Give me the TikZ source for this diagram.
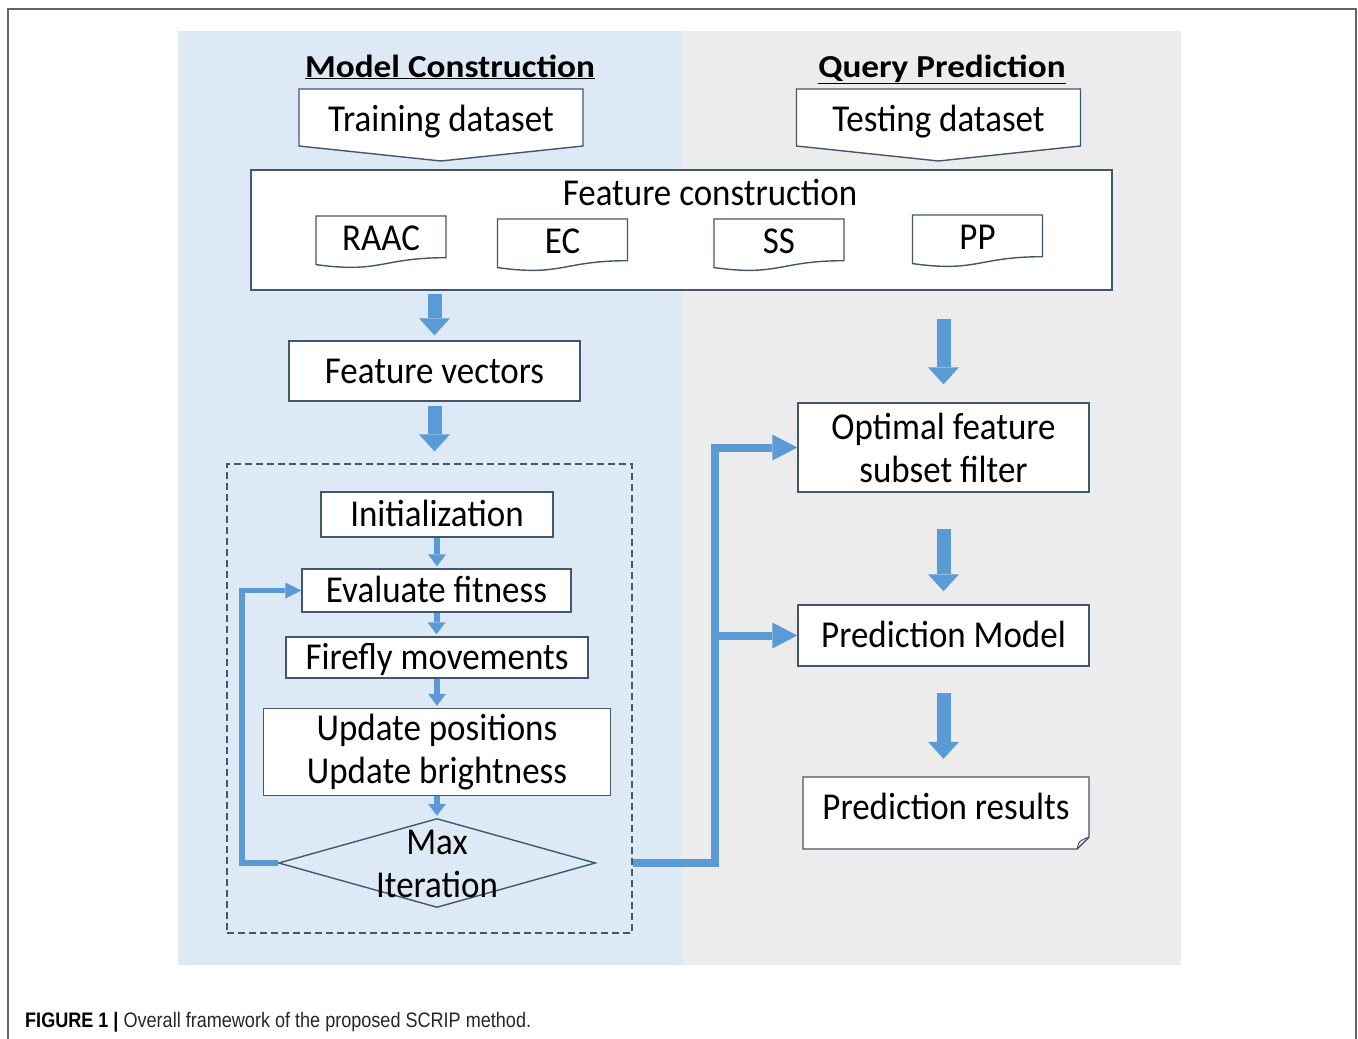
\documentclass[tikz,border=0pt]{standalone}
\usepackage{fontspec}
\setmainfont{Carlito}
\newfontfamily\boxfont{Carlito}[FakeStretch=0.92]
\newfontfamily\headfont{Carlito}[FakeStretch=1.1]
\newfontfamily\capfont{Liberation Sans}[FakeStretch=0.86]
\usetikzlibrary{arrows.meta,calc,shapes.geometric}

\definecolor{panelblue}{RGB}{222,233,246}
\definecolor{panelgray}{RGB}{236,236,236}
\definecolor{arrowblue}{RGB}{91,155,213}
\definecolor{edgeblue}{RGB}{66,86,108}
\definecolor{framegray}{RGB}{100,100,100}

\tikzset{
  txt/.style={font=\boxfont\fontsize{38}{43}\selectfont, inner sep=0pt},
  onel/.style={txt, text height=28pt, text depth=3.5pt},
  box/.style={draw=edgeblue, line width=1.4pt, fill=white},
  outline/.style={draw=edgeblue, line width=1.4pt, fill=white},
  head/.style={font=\headfont\bfseries\fontsize{32}{36}\selectfont, inner sep=0pt},
  bigarrow/.style={draw=arrowblue, line width=14pt, -{Triangle[width=31pt,length=17pt,line width=0pt]}},
  smallarrow/.style={draw=arrowblue, line width=6pt, -{Triangle[width=18pt,length=12pt,line width=0pt]}},
  looparrow/.style={draw=arrowblue, line width=5.5pt, -{Triangle[width=16pt,length=16pt,line width=0pt]}},
  linkarrow/.style={draw=arrowblue, line width=8pt, -{Triangle[width=26pt,length=25pt,line width=0pt]}},
}

\begin{document}
\begin{tikzpicture}[x=1pt,y=-1pt]
  \useasboundingbox (0,0) rectangle (1358,1039);

  % panels and frame
  \fill[panelblue] (178,31) rectangle (682,965);
  \fill[panelgray] (682,31) rectangle (1181,965);
  \draw[framegray, line width=2pt] (8,1039) -- (8,9) -- (1356,9) -- (1356,1039);

  % titles
  \node[head, anchor=base] (mc) at (450,77) {\underline{Model Construction}};
  \node[head, anchor=base] (qp) at (942,77) {\underline{Query Prediction}};

  % datasets
  \foreach \n/\x/\t in {train/441/Training dataset, test/938.5/Testing dataset} {
    \draw[outline] ({\x-142},89) -- ({\x+142},89) -- ({\x+142},146) -- (\x,161) -- ({\x-142},146) -- cycle;
    \node[onel] (\n) at (\x,119) {\t};
  }

  % feature construction
  \node[box, minimum width=861pt, minimum height=120pt] (fc) at (681.5,230) {};
  \node[onel] (fctitle) at (710,193) {Feature construction};
  \foreach \n/\x/\y/\t in {raac/381/216/RAAC, ec/562.5/219/EC, ss/779/219/SS, pp/977.5/215/PP} {
    \draw[outline] ({\x-65},\y) -- ({\x+65},\y) -- ({\x+65},{\y+41.7})
      .. controls (\x,{\y+41.7}) and (\x,{\y+57.6}) .. ({\x-65},{\y+48.6}) -- cycle;
    \node[onel] (\n) at (\x,{\y+22}) {\t};
  }

  % model construction side
  \node[box, onel, minimum width=291pt, minimum height=60pt] (fv) at (434.5,371) {Feature vectors};
  \node[draw=edgeblue, line width=1.2pt, dash pattern=on 7pt off 4pt,
        minimum width=405pt, minimum height=469pt] (ff) at (429.5,698.5) {};

  \node[box, onel, minimum width=232pt, minimum height=45pt] (init) at (437,514.5) {Initialization};
  \node[box, onel, minimum width=269pt, minimum height=43pt] (eval) at (436.5,590.5) {Evaluate fitness};
  \node[box, onel, minimum width=302pt, minimum height=41pt] (fly) at (437,657.5) {Firefly movements};
  \node[box, txt, align=center, minimum width=347pt, minimum height=87pt] (upd) at (437,752)
    {Update positions\\Update brightness};
  \node[diamond, draw=edgeblue, line width=1.4pt, inner sep=0pt,
        minimum width=317pt, minimum height=89pt] (dia) at (437,863) {};
  \node[txt, align=center] (maxit) at (437,864) {Max\\Iteration};

  % query prediction side
  \node[box, txt, align=center, minimum width=291pt, minimum height=89pt] (opt) at (943.5,447.5)
    {Optimal feature\\subset filter};
  \node[box, onel, minimum width=291pt, minimum height=61pt] (pm) at (943.5,635.5) {Prediction Model};
  \draw[outline] (803,777) -- (1089,777) -- (1089,837) -- (1077,849) -- (803,849) -- cycle;
  \draw[edgeblue, line width=1pt] (1077,849) .. controls (1079,841) .. (1089,837);
  \node[onel, minimum width=286pt, minimum height=72pt] (pr) at (946,813) {\raisebox{6pt}{Prediction results}};

  % arrows
  \draw[bigarrow, shorten <=3pt, shorten >=5pt] (fc.south -| fv.north) -- (fv.north);
  \draw[bigarrow, shorten <=4pt, shorten >=12pt] (fv.south) -- (fv.south |- ff.north);
  \foreach \a/\b in {init/eval, eval/fly, fly/upd, upd/dia}
    \draw[smallarrow, shorten >=2pt] (\a.south) -- (\a.south |- \b.north);
  \draw[looparrow] (dia.west) -- ++(-36,0) |- (eval.west);
  \draw[linkarrow] (ff.east |- dia.east) -- ++(82,0) |- (opt.west);
  \draw[linkarrow] (ff.east |- dia.east) -- ++(82,0) |- (pm.west);

  \draw[bigarrow, shorten <=28pt, shorten >=18pt] (fc.south -| opt.north) -- (opt.north);
  \draw[bigarrow, shorten <=36pt, shorten >=13pt] (opt.south) -- (pm.north);
  \draw[bigarrow, shorten <=26pt, shorten >=18pt] (pm.south) -- (pm.south |- pr.north);

  % caption
  \node[anchor=base west, inner sep=0pt, font=\capfont\fontsize{21}{24}\selectfont] (cap) at (25,1027)
    {\textbf{FIGURE 1 |} \textcolor{black!85}{Overall framework of the proposed SCRIP method.}};
\end{tikzpicture}
\end{document}
